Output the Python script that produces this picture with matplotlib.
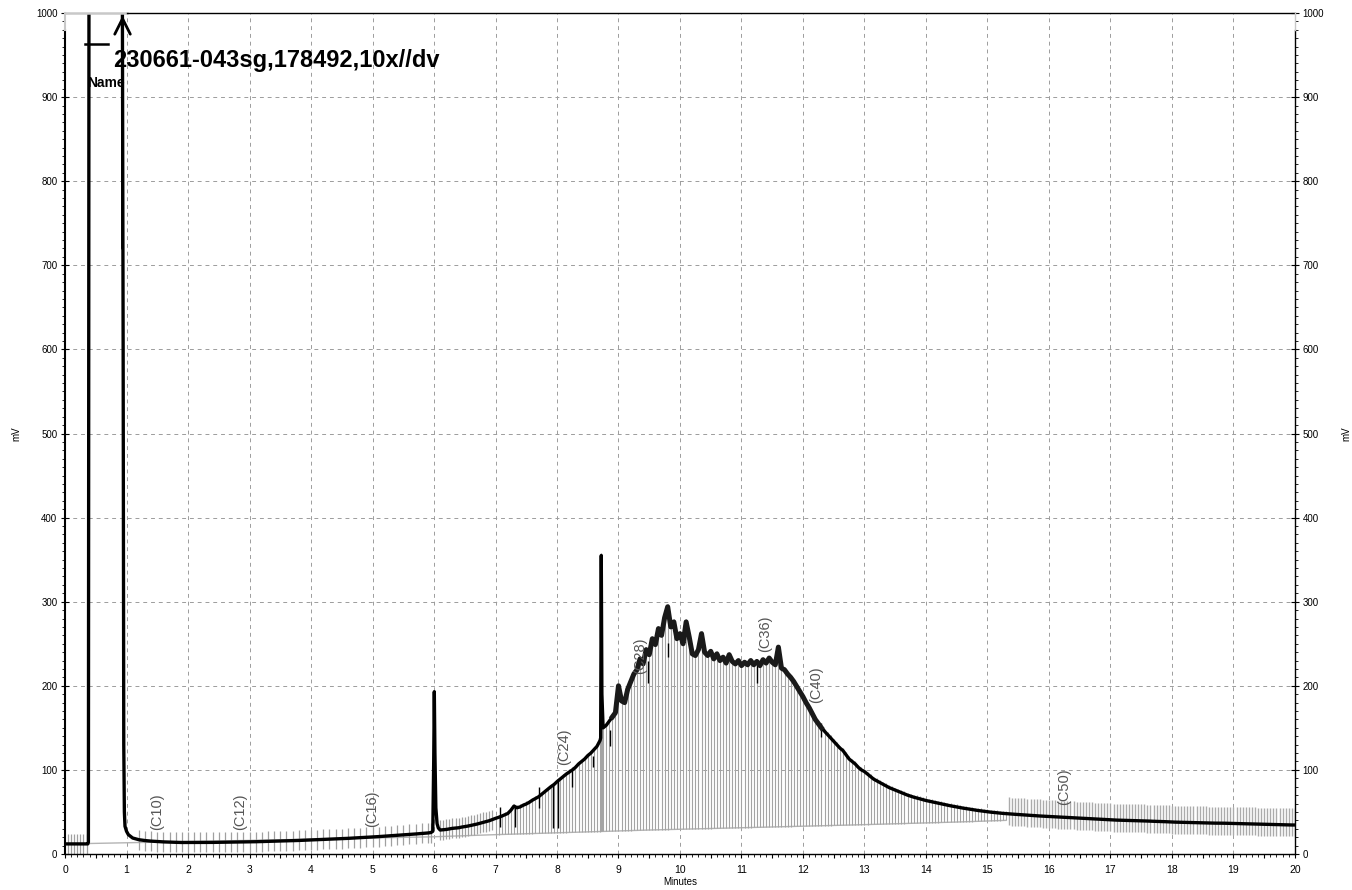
import numpy as np
import matplotlib
matplotlib.use('Agg')
import matplotlib.pyplot as plt
from matplotlib.ticker import MultipleLocator, FuncFormatter

plt.rcParams['font.family'] = ['Liberation Sans', 'DejaVu Sans']

# --- trace (minutes, mV) ---
# solvent front (goes off scale between 0.39 and 0.93)
rt_a = [0.00, 0.05, 0.10, 0.15, 0.20, 0.25, 0.30, 0.35, 0.37, 0.38, 0.39,
        0.93, 0.945, 0.955, 0.965, 0.975, 1.00, 1.03, 1.10]
mv_a = [12, 12, 12, 12, 12, 12, 12, 12, 12, 14, 1100,
        1100, 600, 130, 50, 33, 27, 23, 19]

# 1.2 .. 5.9 min, every 0.1
mv_b = [17.0, 16.0, 15.3, 14.8, 14.4, 14.1, 13.9, 13.7, 13.7, 13.7,
        13.7, 13.8, 13.8, 13.9, 14.0, 14.1, 14.2, 14.3, 14.5, 14.6,
        14.8, 15.0, 15.2, 15.4, 15.6, 15.8, 16.1, 16.4, 16.7, 17.0,
        17.3, 17.6, 17.9, 18.2, 18.6, 19.0, 19.4, 19.8, 20.2, 20.7,
        21.2, 21.7, 22.2, 22.7, 23.2, 23.8, 24.4, 25.0]

# peak at 6.0
rt_s1 = [5.95, 5.98, 5.995, 6.005, 6.015, 6.03, 6.05, 6.07]
mv_s1 = [25.5, 27, 110, 193, 120, 55, 36, 31]

# 6.10 .. 8.70 min, every 0.05
mv_c = [28.5, 28.8, 29.2, 29.8, 30.5, 30.8, 31.2, 32.0, 32.6, 33.2,
        34.0, 34.8, 35.6, 36.6, 37.6, 38.5, 39.6, 41.0, 42.4, 43.6,
        45.0, 46.6, 48.2, 52.0, 57.0, 55.0, 56.0, 58.0, 59.5, 61.5,
        64.0, 66.0, 68.0, 71.0, 74.0, 77.0, 80.0, 82.5, 86.0, 89.0,
        92.0, 95.0, 97.5, 100.0, 103.0, 107.0, 110.0, 113.0, 117.0, 120.0,
        124.0, 128.0, 135.0]

# peak at 8.72
rt_s2 = [8.71, 8.72, 8.73]
mv_s2 = [138, 355, 190]

# 8.75 .. 15.30 min, every 0.05
mv_d = [150, 153, 158, 163, 168, 200, 182, 180, 196, 205,
        214, 219, 232, 226, 243, 237, 256, 249, 268, 260,
        281, 294, 270, 276, 256, 262, 250, 276, 258, 238,
        236, 243, 262, 240, 236, 241, 232, 238, 230, 234,
        227, 237, 229, 226, 230, 224, 228, 225, 230, 225,
        229, 224, 231, 227, 233, 228, 225, 246, 221, 219,
        214, 210, 205, 199, 193, 187, 180, 174, 167, 160,
        155, 150, 146, 142, 138, 134, 130, 126, 123, 118,
        113, 110, 107, 103, 100, 98, 95, 92, 89, 87,
        85, 83, 81, 79, 77.5, 76, 74.5, 73, 71.5, 70,
        68.8, 67.6, 66.6, 65.6, 64.6, 63.6, 62.8, 62, 61.2, 60.4,
        59.6, 58.8, 58, 57.3, 56.6, 56, 55.3, 54.6, 54, 53.4,
        52.8, 52.2, 51.7, 51.2, 50.7, 50.2, 49.8, 49.4, 49.0, 48.6,
        48.3, 48.0]

# 15.35 .. 20.00 min, every 0.05
mv_e = [47.8, 47.5, 47.2, 47.0, 46.7, 46.4, 46.2, 46.0, 45.7, 45.4, 45.2, 45.0, 44.7,
        44.5, 44.3, 44.1, 43.9, 43.7, 43.5, 43.3, 43.1, 42.9, 42.7,
        42.5, 42.3, 42.1, 41.9, 41.7, 41.5, 41.3, 41.1, 40.9, 40.7,
        40.5, 40.4, 40.3, 40.2, 40.1, 40.0, 39.9, 39.8, 39.7, 39.5,
        39.4, 39.3, 39.2, 39.0, 38.9, 38.8, 38.6, 38.5, 38.4, 38.2,
        38.0, 37.9, 37.8, 37.7, 37.6, 37.5, 37.4, 37.3, 37.2, 37.1,
        37.0, 36.9, 36.8, 36.8, 36.7, 36.7, 36.6, 36.6, 36.5, 36.5,
        36.4, 36.3, 36.2, 36.1, 36.0, 35.9, 35.8, 35.7, 35.6, 35.5,
        35.4, 35.3, 35.2, 35.1, 35.0, 34.9, 34.8, 34.7, 34.6, 34.5, 34.5]

rt_b = np.round(1.2 + 0.1 * np.arange(len(mv_b)), 3)
rt_c = np.round(6.10 + 0.05 * np.arange(len(mv_c)), 3)
rt_d = np.round(8.75 + 0.05 * np.arange(len(mv_d)), 3)
rt_e = np.round(15.35 + 0.05 * np.arange(len(mv_e)), 3)

rt = np.concatenate([rt_a, rt_b, rt_s1, rt_c, rt_s2, rt_d, rt_e])
mv = np.concatenate([mv_a, mv_b, mv_s1, mv_c, mv_s2, mv_d, mv_e]).astype(float)

# integration baseline
base_t = [0.00, 0.38, 0.40, 6.0, 7.0, 9.5, 12.8, 14.5, 15.3]
base_mv = [12, 12, 12.5, 20.5, 23, 28.5, 34.5, 38, 40]

# darker peak marks
mark_t = [7.07, 7.32, 7.70, 7.94, 8.02, 8.24, 8.59, 8.86, 9.48, 9.80, 11.25, 12.30]
mark_lo = [32, 32, 55, 31, 31, 80, 104, 128, 203, 234, 203, 139]
mark_hi = [56, 56, 80, 84, 88, 100, 116, 147, 230, 251, 227, 156]

# compound labels
lab_txt = ['(C10)', '(C12)', '(C16)', '(C24)', '(C28)', '(C36)', '(C40)', '(C50)']
lab_t = [1.50, 2.85, 5.00, 8.11, 9.35, 11.38, 12.21, 16.24]
lab_mv = [29, 29, 32, 106, 214, 240, 179, 58]

fig = plt.figure(figsize=(13.52, 8.9), dpi=100)
fig.patch.set_facecolor('white')
ax = fig.add_axes([0.0481, 0.04045, 0.9097, 0.94494])
ax.set_xlim(0, 20); ax.set_ylim(0, 1000)

# grid
grid_kw = dict(color='#9c9c9c', lw=0.7, ls=(0, (4, 4)), zorder=0)
for xv in range(1, 20):
    ax.axvline(xv, **grid_kw)
for yv in range(100, 1000, 100):
    ax.axhline(yv, **grid_kw)

# baseline
ax.plot(base_t, base_mv, color='#b4b4b4', lw=1.0, zorder=2)

# drop lines from baseline up to the trace
dm = (rt >= 7.0) & (rt <= 15.3)
ax.vlines(rt[dm], np.interp(rt[dm], base_t, base_mv), mv[dm] + 3,
          colors='#a4a4a4', lw=0.8, zorder=2)

# short event ticks
em = ((rt > 0.02) & (rt < 0.36)) | ((rt >= 1.2) & (rt < 5.96)) | ((rt >= 6.1) & (rt < 7.0))
ax.plot(rt[em], mv[em], ls='none', marker='|', ms=15, mew=0.9, color='#a0a0a0', zorder=2)
tm = rt > 15.3
ax.plot(rt[tm], mv[tm] + 3, ls='none', marker='|', ms=20, mew=1.0, color='#ababab', zorder=2)

ax.vlines(mark_t, mark_lo, mark_hi, colors='black', lw=1.0, zorder=3)

# trace (noisy hump drawn heavier, like the raw detector signal)
ax.plot(rt, mv, color='black', lw=2.4, zorder=5, solid_joinstyle='round')
nm = (rt >= 8.9) & (rt <= 12.3)
ax.plot(rt[nm], mv[nm], color='#1a1a1a', lw=3.6, zorder=5, solid_joinstyle='round')

for s, t, v in zip(lab_txt, lab_t, lab_mv):
    ax.text(t, v, s, rotation=90, ha='center', va='bottom', fontsize=10.5,
            color='#555555', zorder=6)

# header annotations
ax.annotate('', xy=(0.935, 997), xytext=(0.935, 720),
            arrowprops=dict(arrowstyle='->,head_length=0.7,head_width=0.35',
                            lw=2, color='black', mutation_scale=16, shrinkA=0, shrinkB=0),
            zorder=6)
ax.plot([0.33, 0.70], [963, 963], color='black', lw=1.8, zorder=6)
ax.text(0.78, 944, '230661-043sg,178492,10x//dv', fontsize=17, fontweight='bold',
        ha='left', va='center', zorder=7)
ax.text(0.36, 917, 'Name', fontsize=10, fontweight='bold', ha='left', va='center', zorder=7)

# axes styling
ax.xaxis.set_major_locator(MultipleLocator(0.5))
ax.xaxis.set_minor_locator(MultipleLocator(0.1))
ax.xaxis.set_major_formatter(FuncFormatter(
    lambda v, p: f'{int(round(v))}' if abs(v - round(v)) < 1e-6 else ''))
ax.yaxis.set_major_locator(MultipleLocator(100))
ax.yaxis.set_minor_locator(MultipleLocator(10))
ax.tick_params(axis='y', which='both', left=True, right=True, labelleft=True, labelright=True)
ax.tick_params(axis='y', which='major', direction='inout', length=6, width=0.8,
               labelsize=7, pad=2.5)
ax.tick_params(axis='y', which='minor', direction='out', length=2.5, width=0.6)
ax.tick_params(axis='x', which='major', direction='out', length=3, width=0.8,
               labelsize=7.5, pad=5)
ax.tick_params(axis='x', which='minor', direction='out', length=2, width=0.6)

ax.spines['top'].set_visible(False)
ax.spines['left'].set_linewidth(1.5)
ax.spines['right'].set_linewidth(1.0)
ax.spines['bottom'].set_linewidth(1.0)
ax.spines['left'].set_bounds(0, 980)
ax.spines['right'].set_bounds(0, 980)
xt = ax.get_xaxis_transform(); yt = ax.get_yaxis_transform()
ax.plot([0, 1], [1, 1], transform=xt, color='#c8c8c8', lw=1.8, clip_on=False, zorder=8)
ax.plot([1, 20], [1, 1], transform=xt, color='black', lw=1.0, clip_on=False, zorder=8)
ax.plot([0, 0], [980, 1000], transform=yt, color='#c8c8c8', lw=1.5, clip_on=False, zorder=8)
ax.plot([1, 1], [980, 1000], transform=yt, color='#c8c8c8', lw=1.0, clip_on=False, zorder=8)

fig.text(0.012, 0.513, 'mV', rotation=90, fontsize=7, ha='center', va='center')
fig.text(0.996, 0.513, 'mV', rotation=90, fontsize=7, ha='center', va='center')
fig.text(0.503, 0.009, 'Minutes', fontsize=7, ha='center', va='center')

fig.savefig('out.png', dpi=100, facecolor='white')
